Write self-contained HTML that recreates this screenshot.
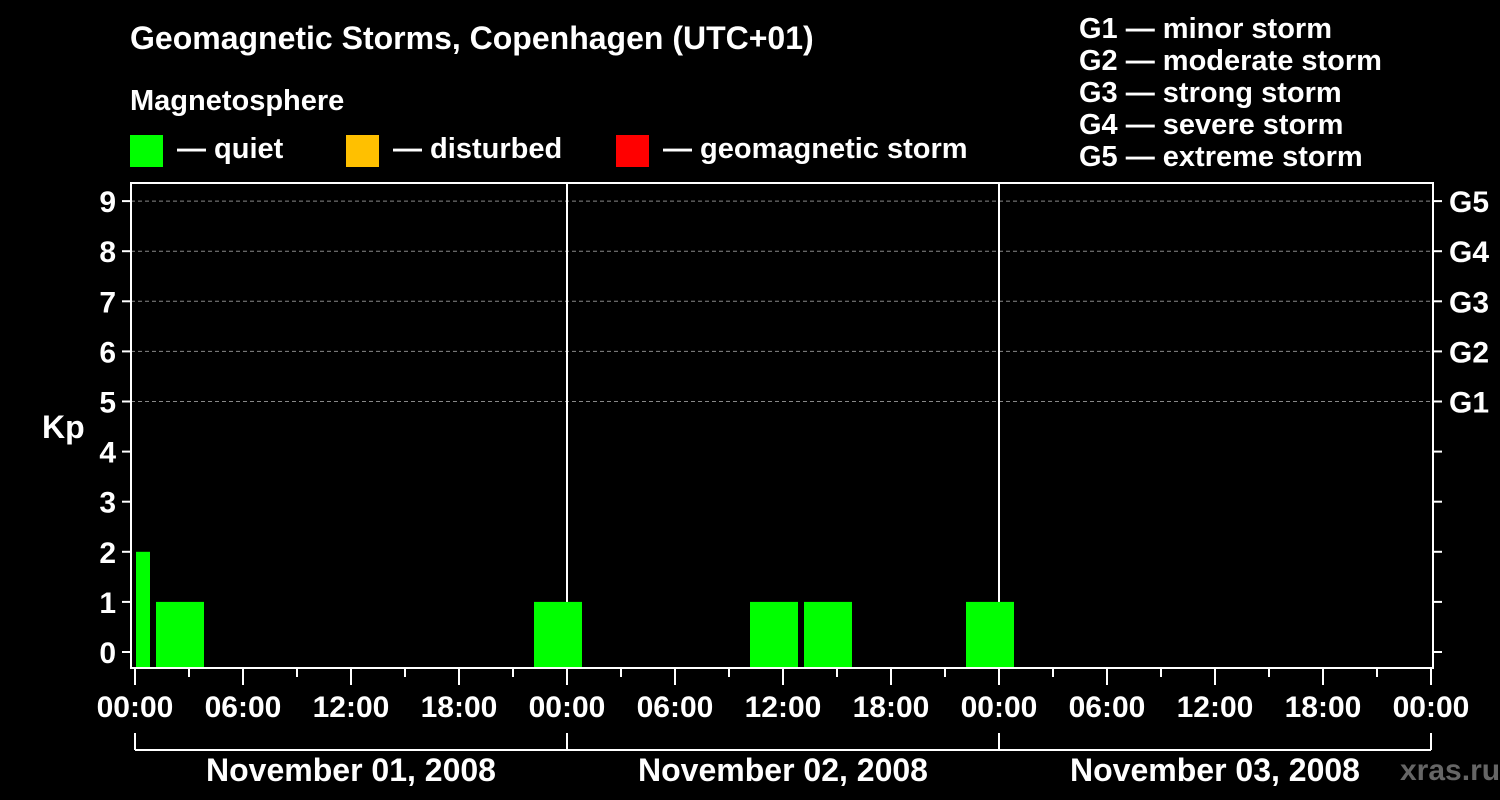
<!DOCTYPE html>
<html><head><meta charset="utf-8"><style>
body{margin:0;background:#000;}
svg{display:block;font-family:"Liberation Sans",Arial,sans-serif;font-weight:bold;}
</style></head><body>
<svg id="c" width="1500" height="800" viewBox="0 0 1500 800">
<rect width="1500" height="800" fill="#000"/>
<text x="130" y="49" fill="#fff" font-size="32">Geomagnetic Storms, Copenhagen (UTC+01)</text>
<text x="130" y="110" fill="#fff" font-size="29">Magnetosphere</text>
<g><rect x="130" y="135" width="33" height="32" fill="#00ff00"/><text x="177" y="158" fill="#fff" font-size="29">— quiet</text></g>
<g><rect x="346" y="135" width="33" height="32" fill="#ffc000"/><text x="393" y="158" fill="#fff" font-size="29">— disturbed</text></g>
<g><rect x="616" y="135" width="33" height="32" fill="#ff0000"/><text x="663" y="158" fill="#fff" font-size="29">— geomagnetic storm</text></g>
<g fill="#fff" font-size="29">
<text x="1079" y="38">G1 — minor storm</text>
<text x="1079" y="70">G2 — moderate storm</text>
<text x="1079" y="102">G3 — strong storm</text>
<text x="1079" y="134">G4 — severe storm</text>
<text x="1079" y="166">G5 — extreme storm</text>
</g>
<text x="42" y="438" fill="#fff" font-size="32">Kp</text>
<text x="1400" y="780" fill="#666" font-size="30">xras.ru</text>
<g id="grid"></g><g id="bars"></g><g id="axes"></g>
</svg>
<script>
const barStartHours=[-2,1,22,34,37,46];
const barKp=[2,1,1,1,1,1];
const dayLabels=["November 01, 2008","November 02, 2008","November 03, 2008"];
const gLabels=["G1","G2","G3","G4","G5"];
const hourLabels=["00:00","06:00","12:00","18:00"];
const NS="http://www.w3.org/2000/svg";
const X0=135,PXH=18,Y0=652,PXK=50.1,LEFT=131,RIGHT=1433,TOP=183,BOT=668;
const x=h=>X0+h*PXH, y=k=>Y0-k*PXK;
function mk(p,t,a){const e=document.createElementNS(NS,t);for(const k in a)e.setAttribute(k,a[k]);p.appendChild(e);return e;}
const grid=document.getElementById('grid'),bars=document.getElementById('bars'),axes=document.getElementById('axes');
for(let k=5;k<=9;k++){const l=mk(grid,'line',{x1:LEFT,x2:RIGHT,y1:y(k),y2:y(k),stroke:'#888','stroke-dasharray':'4,3','stroke-width':1});

}
for(let d=1;d<=2;d++){const l=mk(grid,'line',{x1:x(24*d),x2:x(24*d),y1:TOP,y2:BOT,stroke:'#fff','stroke-width':2});

}
barStartHours.forEach((h,i)=>{
 let a=Math.max(x(h)+3,x(0)+1),b=Math.min(x(h+3)-3,RIGHT-1);
 const k=barKp[i];const col=k<4?'#00ff00':(k<5?'#ffc000':'#ff0000');
 const r=mk(bars,'rect',{x:a,y:y(k),width:b-a,height:BOT-y(k),fill:col});
 
 
});
mk(axes,'rect',{x:LEFT,y:TOP,width:RIGHT-LEFT,height:BOT-TOP,fill:'none',stroke:'#fff','stroke-width':2});
for(let k=0;k<=9;k++){
 mk(axes,'line',{x1:122,x2:LEFT,y1:y(k),y2:y(k),stroke:'#fff','stroke-width':2});
 mk(axes,'line',{x1:RIGHT,x2:1442,y1:y(k),y2:y(k),stroke:'#fff','stroke-width':2});
 const t=mk(axes,'text',{x:116,y:y(k)+11,fill:'#fff','font-size':30,'text-anchor':'end'});t.textContent=k;
 
 
 if(k>=5){const g=mk(axes,'text',{x:1449,y:y(k)+11,fill:'#fff','font-size':30});g.textContent=gLabels[k-5];
 
 }
}
for(let h=0;h<=72;h+=3){
 const major=h%6===0;
 mk(axes,'line',{x1:x(h),x2:x(h),y1:BOT,y2:major?685:677,stroke:'#fff','stroke-width':2});
 if(major){const t=mk(axes,'text',{x:x(h),y:717,fill:'#fff','font-size':30,'text-anchor':'middle'});
 t.textContent=hourLabels[(h/6)%4];
 
 }
}
mk(axes,'line',{x1:x(0),x2:x(72),y1:750,y2:750,stroke:'#fff','stroke-width':2});
for(let d=0;d<=3;d++) mk(axes,'line',{x1:x(24*d),x2:x(24*d),y1:733,y2:750,stroke:'#fff','stroke-width':2});
dayLabels.forEach((s,d)=>{const t=mk(axes,'text',{x:x(24*d+12),y:781,fill:'#fff','font-size':32,'text-anchor':'middle'});t.textContent=s;

});
</script>
</body></html>
